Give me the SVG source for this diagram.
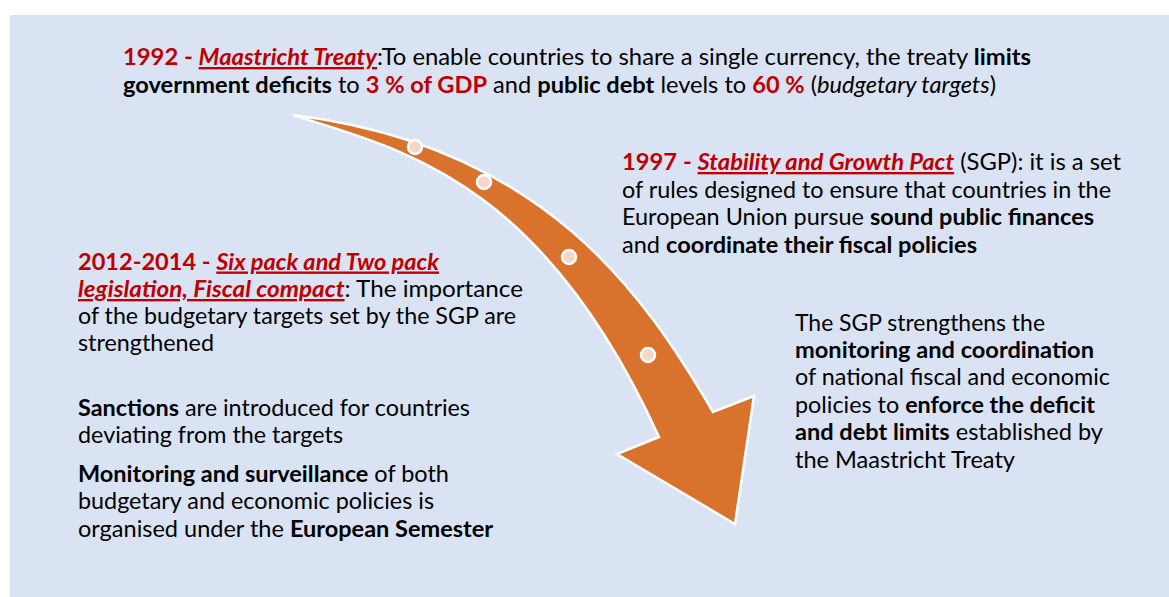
<svg xmlns="http://www.w3.org/2000/svg" width="1169" height="597" viewBox="0 0 1169 597">
<style>
text{font-family:Lato,"Liberation Sans",sans-serif;font-size:23.5px;fill:#000}
.b{font-weight:bold}
.r{fill:#c00000;font-weight:bold}
.ru{fill:#c00000;font-weight:bold;font-style:italic;text-decoration:underline}
.i{font-style:italic}
.arrow{fill:#d9722d;stroke:#fff;stroke-width:2.5;stroke-linejoin:miter}
.dot{fill:#f8d5c8;stroke:#fff;stroke-width:2.5}
</style>
<rect x="0" y="0" width="1169" height="597" fill="#fff"/>
<rect x="10" y="15" width="1159" height="582" fill="#dae3f3"/>
<g id="connectors">
<path class="arrow" d="M293,115 C545,146 645,296 713,412 L754,396 L735,524 L617,454 L659,437 C539,173 393,148 293,115 Z"/>
<circle class="dot" cx="415" cy="147" r="7"/>
<circle class="dot" cx="484" cy="182" r="7"/>
<circle class="dot" cx="569" cy="257" r="7"/>
<circle class="dot" cx="648" cy="355" r="7"/>
</g>
<g id="maastricht">
<text x="123" y="65" textLength="908" lengthAdjust="spacingAndGlyphs"><tspan class="r">1992 - </tspan><tspan class="ru">Maastricht Treaty</tspan>:To enable countries to share a single currency, the treaty <tspan class="b">limits</tspan></text>
<text x="123" y="93" textLength="873" lengthAdjust="spacingAndGlyphs"><tspan class="b">government deficits</tspan> to <tspan class="r">3 % of GDP</tspan> and <tspan class="b">public debt</tspan> levels to <tspan class="r">60 %</tspan> (<tspan class="i">budgetary targets</tspan>)</text>
</g>
<g id="sgp">
<text x="622" y="170" textLength="499" lengthAdjust="spacingAndGlyphs"><tspan class="r">1997 - </tspan><tspan class="ru">Stability and Growth Pact</tspan> (SGP): it is a set</text>
<text x="622" y="197.5" textLength="489" lengthAdjust="spacingAndGlyphs">of rules designed to ensure that countries in the</text>
<text x="622" y="225" textLength="472" lengthAdjust="spacingAndGlyphs">European Union pursue <tspan class="b">sound public finances</tspan></text>
<text x="622" y="252.5" textLength="355" lengthAdjust="spacingAndGlyphs">and <tspan class="b">coordinate their fiscal policies</tspan></text>
</g>
<g id="six-pack">
<text x="78" y="269.5" textLength="361" lengthAdjust="spacingAndGlyphs"><tspan class="r">2012-2014 - </tspan><tspan class="ru">Six pack and Two pack</tspan></text>
<text x="78" y="297" textLength="445" lengthAdjust="spacingAndGlyphs"><tspan class="ru">legislation, Fiscal compact</tspan>: The importance</text>
<text x="78" y="324" textLength="438" lengthAdjust="spacingAndGlyphs">of the budgetary targets set by the SGP are</text>
<text x="78" y="351" textLength="136" lengthAdjust="spacingAndGlyphs">strengthened</text>
</g>
<g id="sanctions">
<text x="78" y="416" textLength="392" lengthAdjust="spacingAndGlyphs"><tspan class="b">Sanctions</tspan> are introduced for countries</text>
<text x="78" y="443" textLength="265" lengthAdjust="spacingAndGlyphs">deviating from the targets</text>
</g>
<g id="monitoring">
<text x="78" y="482" textLength="371" lengthAdjust="spacingAndGlyphs"><tspan class="b">Monitoring and surveillance</tspan> of both</text>
<text x="78" y="509" textLength="356" lengthAdjust="spacingAndGlyphs">budgetary and economic policies is</text>
<text x="78" y="537" textLength="415" lengthAdjust="spacingAndGlyphs">organised under the <tspan class="b">European Semester</tspan></text>
</g>
<g id="sgp-strengthens">
<text x="795" y="331" textLength="250" lengthAdjust="spacingAndGlyphs">The SGP strengthens the</text>
<text x="795" y="357.5" textLength="299" lengthAdjust="spacingAndGlyphs" class="b">monitoring and coordination</text>
<text x="795" y="385" textLength="315" lengthAdjust="spacingAndGlyphs">of national fiscal and economic</text>
<text x="795" y="412.5" textLength="300" lengthAdjust="spacingAndGlyphs">policies to <tspan class="b">enforce the deficit</tspan></text>
<text x="795" y="440" textLength="308" lengthAdjust="spacingAndGlyphs"><tspan class="b">and debt limits</tspan> established by</text>
<text x="795" y="467.5" textLength="220" lengthAdjust="spacingAndGlyphs">the Maastricht Treaty</text>
</g>
</svg>
